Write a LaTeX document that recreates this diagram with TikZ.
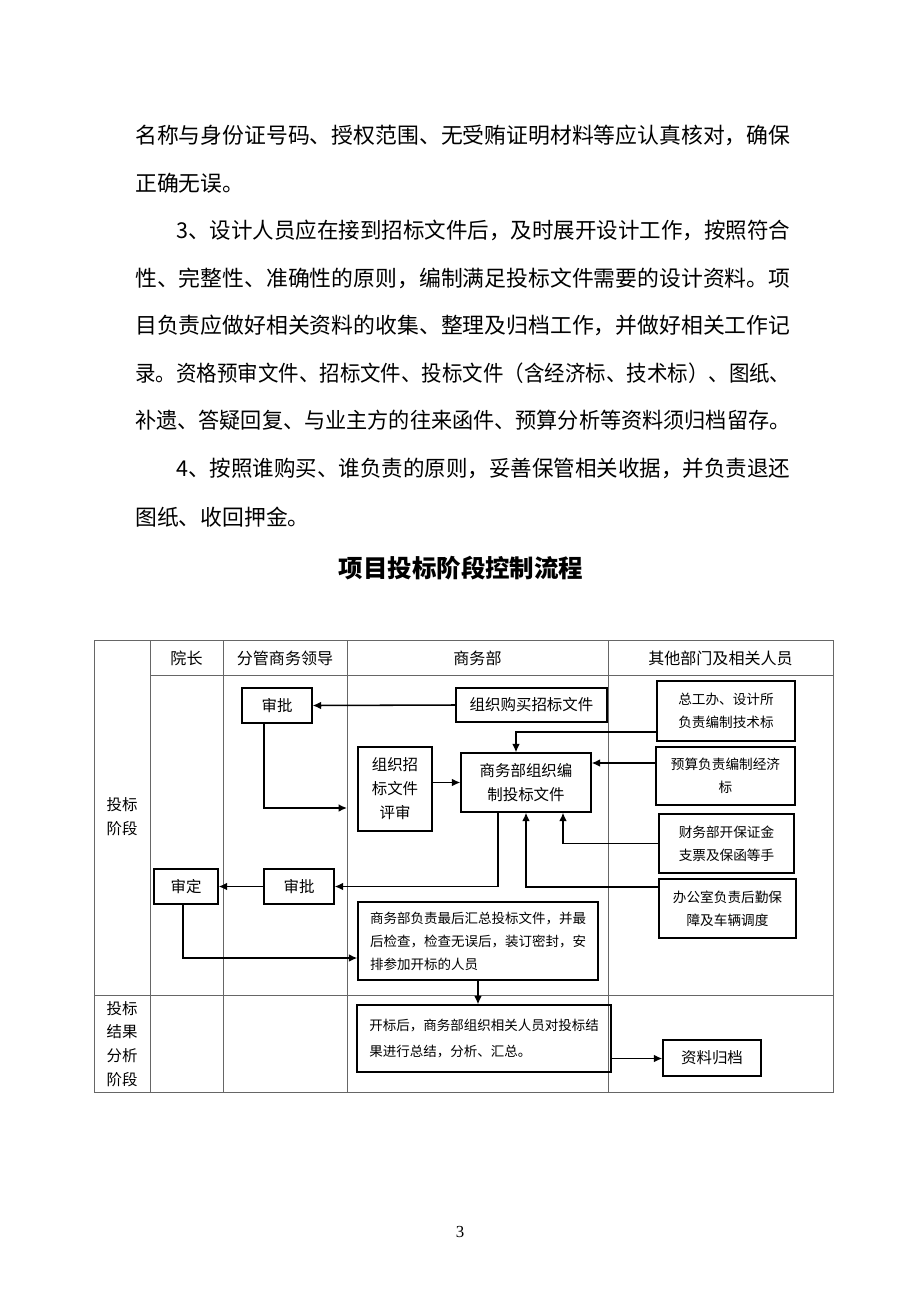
\documentclass[tikz,border=0pt]{standalone}
\usepackage{fontspec}
\setmainfont{Noto Sans CJK SC}
\newfontfamily\pgfont{Liberation Serif}
\usepackage{graphicx}
\usetikzlibrary{arrows.meta}
\newcommand{\fitline}[2]{\resizebox{#1}{\height}{#2}}

\begin{document}
\begin{tikzpicture}[x=0.025cm, y=-0.025cm,
  body/.style={anchor=west, inner sep=0pt, font=\fontsize{15.5pt}{18pt}\selectfont},
  grid/.style={draw=black!60, line width=0.6pt},
  head/.style={font=\fontsize{11.4pt}{14pt}\selectfont},
  stage/.style={align=center, font=\fontsize{11pt}{17pt}\selectfont},
  box/.style={draw, line width=0.9pt, inner sep=0pt, align=center, font=\fontsize{11pt}{17pt}\selectfont},
  sbox/.style={box, font=\fontsize{9.7pt}{16.4pt}\selectfont},
  wbox/.style={box, align=left, font=\fontsize{9.6pt}{16.4pt}\selectfont},
  flow/.style={draw, line width=1.1pt, -{Latex[length=6pt,width=5.5pt]}}]

    \useasboundingbox (0,0) rectangle (920,1302);

    \node[body] (t1) at (135,135) {\fitline{16.375cm}{名称与身份证号码、授权范围、无受贿证明材料等应认真核对，确保}};
    \node[body] (t2) at (135,183) {正确无误。};
    \node[body] (t3) at (176,230) {\fitline{15.35cm}{3、设计人员应在接到招标文件后，及时展开设计工作，按照符合}};
    \node[body] (t4) at (135,278) {\fitline{16.375cm}{性、完整性、准确性的原则，编制满足投标文件需要的设计资料。项}};
    \node[body] (t5) at (135,325) {\fitline{16.375cm}{目负责应做好相关资料的收集、整理及归档工作，并做好相关工作记}};
    \node[body] (t6) at (135,373) {\fitline{16.375cm}{录。资格预审文件、招标文件、投标文件（含经济标、技术标）、图纸、}};
    \node[body] (t7) at (135,420) {\fitline{16.375cm}{补遗、答疑回复、与业主方的往来函件、预算分析等资料须归档留存。}};
    \node[body] (t8) at (176,468) {\fitline{15.35cm}{4、按照谁购买、谁负责的原则，妥善保管相关收据，并负责退还}};
    \node[body] (t9) at (135,517) {图纸、收回押金。};

    \node[font=\fontsize{17.4pt}{20pt}\selectfont\bfseries] (title) at (461,568) {项目投标阶段控制流程};

    \draw[grid] (94,640) rectangle (833,1092);
    \draw[grid] (150,675) -- (833,675);
    \draw[grid] (94,995) -- (833,995);
    \foreach \x in {150,223,347,608}
        \draw[grid] (\x,640) -- (\x,1092);

    \node[head] (h1) at (186.5,658) {院长};
    \node[head] (h2) at (285,658) {分管商务领导};
    \node[head] (h3) at (477.5,658) {商务部};
    \node[head] (h4) at (720.5,658) {其他部门及相关人员};

    \node[stage] (s1) at (122,817) {投标\\阶段};
    \node[stage] (s2) at (122,1044) {投标\\结果\\分析\\阶段};

    \node[box, minimum width=1.75cm, minimum height=0.875cm] (sp1) at (277,705.5) {审批};
    \node[box, minimum width=3.775cm, minimum height=0.85cm] (gm) at (531.5,705) {组织购买招标文件};
    \node[box, minimum width=1.85cm, minimum height=2.1cm] (ps) at (395,789) {组织招\\标文件\\评审};
    \node[box, minimum width=3.25cm, minimum height=1.475cm] (bz) at (526,782.5) {商务部组织编\\制投标文件};
    \node[sbox, minimum width=3.45cm, minimum height=1.5cm] (js) at (726,711) {总工办、设计所\\负责编制技术标};
    \node[sbox, minimum width=3.475cm, minimum height=1.45cm] (jj) at (725.5,776) {预算负责编制经济\\标};
    \node[sbox, minimum width=3.375cm, minimum height=1.475cm] (cw) at (726.5,843.5) {财务部开保证金\\支票及保函等手};
    \node[sbox, minimum width=3.425cm, minimum height=1.475cm] (bg) at (727.5,908.5) {办公室负责后勤保\\障及车辆调度};
    \node[box, minimum width=1.75cm, minimum height=0.875cm] (sp2) at (299,886.5) {审批};
    \node[box, minimum width=1.6cm, minimum height=0.875cm] (sd) at (186,886.5) {审定};
    \node[wbox, minimum width=6cm, minimum height=1.95cm] (hz) at (478,941) {商务部负责最后汇总投标文件，并最\\后检查，检查无误后，装订密封，安\\排参加开标的人员};
    \node[wbox, minimum width=6.35cm, minimum height=1.675cm, font=\fontsize{9.6pt}{19pt}\selectfont] (kb) at (484,1038.5) {开标后，商务部组织相关人员对投标结\\果进行总结，分析、汇总。};
    \node[box, minimum width=2.45cm, minimum height=0.9cm] (gd) at (712,1058) {资料归档};

    \coordinate (c1) at (347,808);

    \draw[flow] (gm.west) -- (sp1.east);
    \draw[flow] ([xshift=-0.325cm]sp1.south) |- (c1);
    \draw[flow] (ps.east |- bz.west) -- (bz.west);
    \draw[flow] ([yshift=-0.525cm]js.west) -| ([xshift=-0.25cm]bz.north);
    \draw[flow] ([yshift=0.325cm]jj.west) -- ([yshift=0.325cm]jj.west -| bz.east);
    \draw[flow] (cw.west) -| ([xshift=0.925cm]bz.south);
    \draw[flow] ([yshift=0.54cm]bg.west) -| (bz.south);
    \draw[flow] ([xshift=-0.7cm]bz.south) |- (sp2.east);
    \draw[flow] (sp2.west) -- (sd.east);
    \draw[flow] ([xshift=-0.075cm]sd.south) |- ([yshift=-0.425cm]hz.west);
    \draw[flow] (hz.south) -- (hz.south |- kb.north);
    \draw[flow] ([yshift=-0.5cm]kb.east) -- ([yshift=-0.5cm]kb.east -| gd.west);

    \node[font=\pgfont\fontsize{12pt}{14pt}\selectfont] (pg) at (460,1232) {3};

\end{tikzpicture}
\end{document}
